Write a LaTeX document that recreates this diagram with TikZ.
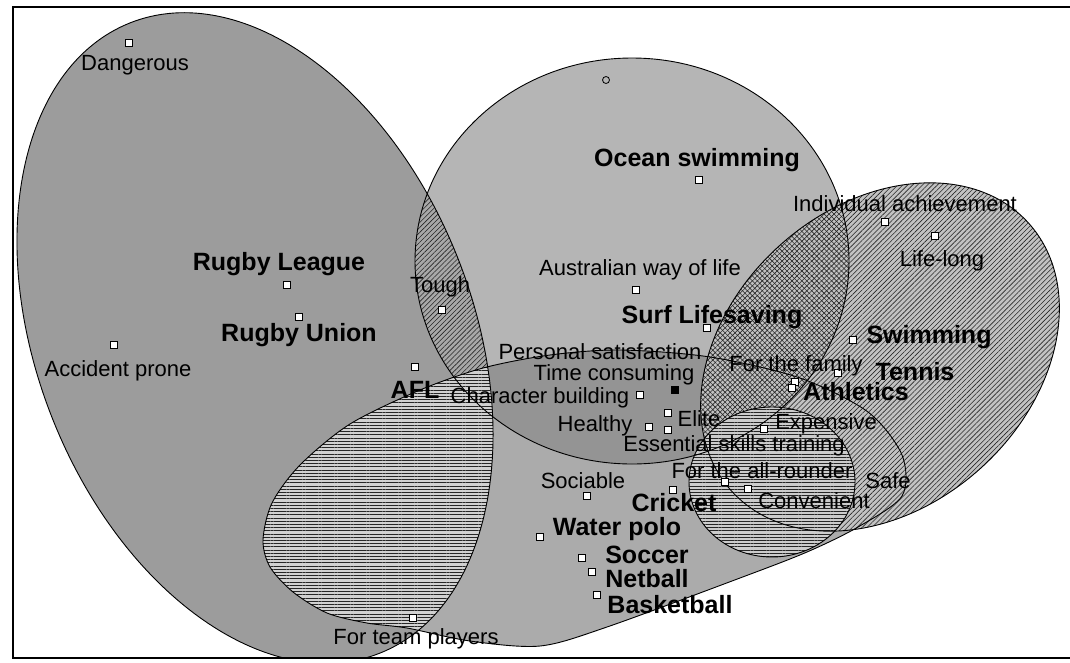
\documentclass[tikz,border=0pt]{standalone}
\usepackage{fontspec}
\setmainfont{Liberation Sans}
\usetikzlibrary{patterns.meta}
\newcommand{\rugbyArea}{(255,338) ellipse [x radius=339pt, y radius=218pt, rotate=-68.4]}
\newcommand{\oceanArea}{(632,261) ellipse [x radius=217pt, y radius=203pt]}
\newcommand{\soloArea}{(880,357) ellipse [x radius=200pt, y radius=150pt, rotate=42]}
\newcommand{\skillArea}{(772,482) ellipse [x radius=83pt, y radius=75pt]}
\newcommand{\teamArea}{plot[smooth cycle] coordinates {(263,540) (272,503) (300,465) (350,424) (420,390) (483,368) (550,355) (620,350) (710,357) (800,378) (868,412) (902,455) (902,496) (858,527) (807,552) (740,578) (607,627) (540,646) (470,641) (407,628) (367,623) (327,613) (293,592) (270,567)}}
\begin{document}
\begin{tikzpicture}[x=1pt,y=-1pt,
  lab/.style={font=\fontsize{22}{24}\selectfont,inner sep=0pt},
  sport/.style={font=\fontsize{25}{27}\selectfont\bfseries,inner sep=0pt},
  sq/.style={draw,fill=white,line width=0.9pt,minimum size=7.5pt,inner sep=0pt},
  hlines/.style={pattern={Lines[angle=0,distance=3.2pt,line width=0.7pt]},pattern color=black!85},
  dlines/.style={pattern={Lines[angle=45,distance=3.5pt,line width=0.6pt]},pattern color=black!85}]
  \useasboundingbox (0,0) rectangle (1070,662);
  \begin{scope}
    \clip (13,7) rectangle (1070,658);
    \fill[black!39] \rugbyArea;
    \fill[black!29] \oceanArea;
    \fill[black!33] \teamArea;
    \begin{scope}
      \clip \oceanArea;
      \fill[black!42] \teamArea;
    \end{scope}
    \begin{scope}
      \clip \rugbyArea;
      \fill[black!34] \oceanArea;
      \fill[dlines] \oceanArea;
      \fill[black!18] \teamArea;
      \fill[hlines] \teamArea;
    \end{scope}
    \fill[black!24] \soloArea;
    \fill[dlines] \soloArea;
    \begin{scope}
      \clip \oceanArea;
      \fill[pattern={Lines[angle=-45,distance=3.5pt,line width=0.6pt]},pattern color=black!85] \soloArea;
    \end{scope}
    \fill[black!20] \skillArea;
    \fill[hlines] \skillArea;
    \draw[line width=0.9pt] \rugbyArea;
    \draw[line width=0.9pt] \oceanArea;
    \draw[line width=0.9pt] \teamArea;
    \draw[line width=0.9pt] \soloArea;
    \draw[line width=0.9pt] \skillArea;
  \end{scope}
  \draw[line width=1.5pt] (1070,7) -- (13,7) -- (13,658) -- (1070,658);

  \foreach \px/\py [count=\i] in {129/43, 699/180, 885/222, 935/236, 287/285, 442/310, 299/317, 636/290, 707/328, 853/340, 114/345, 415/367, 640/395, 649/427, 668/413, 668/430, 795/382, 792/388, 838/373, 764/429, 725/482, 748/489, 587/496, 673/490, 540/537, 582/558, 592/572, 597/595, 413/618}
    \node[sq] (m\i) at (\px,\py) {};
  \node[sq,fill=black] (mDark) at (675,390) {};
  \node[draw,circle,line width=0.8pt,minimum size=7pt,inner sep=0pt] (mTop) at (606,80) {};

  \foreach \nm/\px/\py/\txt in {Danger/135/65/Dangerous, Accid/118/371/Accident prone, Tough/440/287/Tough, AusWay/640/270/Australian way of life, IndAch/905/204/Individual achievement, LifeLong/942/261/Life-long, PersSat/600/352/Personal satisfaction, TimeCons/614/375/Time consuming, CharBuild/540/398/Character building, Healthy/595/426/Healthy, Elite/699/419/Elite, EssSkill/734/446/Essential skills training, Expens/826/424/Expensive, Family/796/366/For the family, AllRound/762/471/For the all-rounder, Safe/888/481/Safe, Conven/814/501/Convenient, Sociable/583/481/Sociable, TeamPl/416/639/For team players}
    \node[lab] (l\nm) at (\px,\py) {\txt};

  \foreach \nm/\px/\py/\txt in {RLeague/279/264/Rugby League, RUnion/299/335/Rugby Union, AFL/415/390/AFL, Ocean/697/160/Ocean swimming, Surf/712/317/Surf Lifesaving, Swim/929/337/Swimming, Tennis/915/372/Tennis, Athl/856/392/Athletics, Cricket/674/503/Cricket, WPolo/617/529/Water polo, Soccer/647/555/Soccer, Netball/647/579/Netball, Basket/670/605/Basketball}
    \node[sport] (s\nm) at (\px,\py) {\txt};
\end{tikzpicture}
\end{document}
